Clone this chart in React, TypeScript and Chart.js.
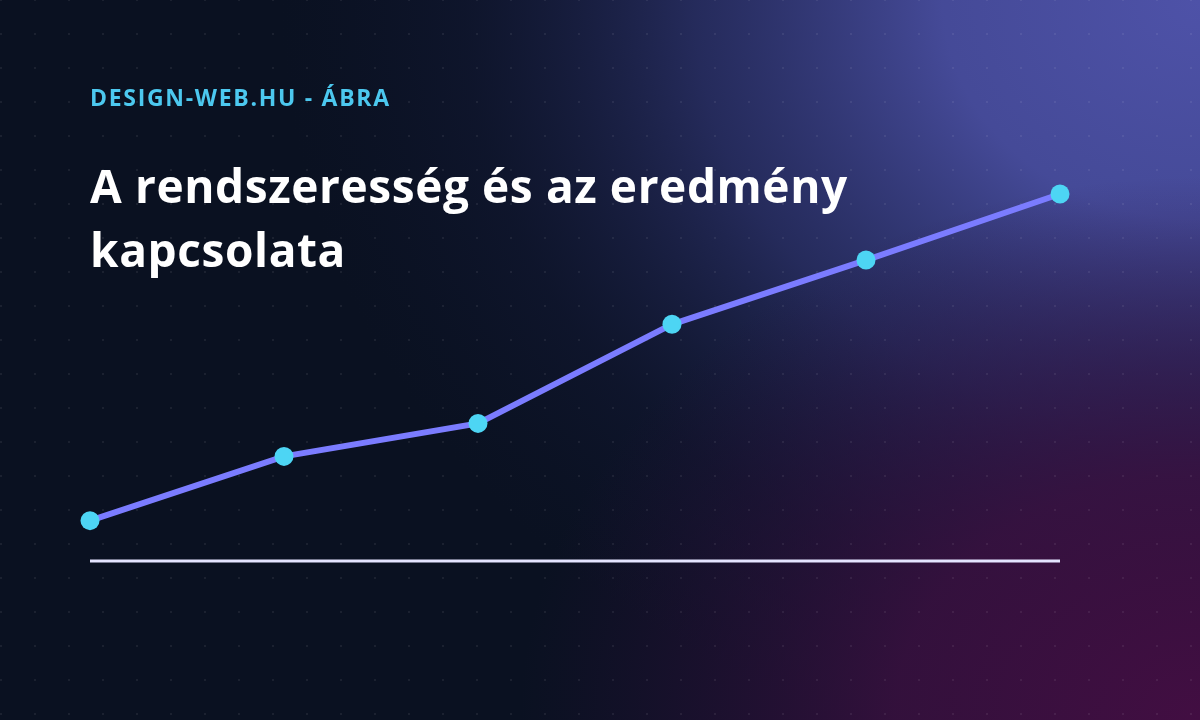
import React, { useEffect, useRef } from "react";
import { Chart, registerables } from "chart.js";

Chart.register(...registerables);

const categories = ["1", "2", "3", "4", "5", "6"];
const resultValues = [11, 28.5, 37.5, 64.5, 82, 100];
const yMin = 0;
const yMax = 100;
const kicker = "DESIGN-WEB.HU - ÁBRA";
const titleLines = ["A rendszeresség és az eredmény", "kapcsolata"];

const W = 1200;
const H = 720;

const backgroundPlugin = {
  id: "bgPlugin",
  beforeDraw(chart: any) {
    const ctx = chart.ctx as CanvasRenderingContext2D;
    ctx.save();
    ctx.fillStyle = "#0a1121";
    ctx.fillRect(0, 0, W, H);
    // top-right indigo glow (elliptical)
    ctx.save();
    ctx.translate(1200, 0);
    ctx.scale(1, 0.85);
    let g = ctx.createRadialGradient(0, 0, 0, 0, 0, 920);
    g.addColorStop(0, "rgba(78,82,168,1)");
    g.addColorStop(0.28, "rgba(72,77,158,0.95)");
    g.addColorStop(0.55, "rgba(55,60,130,0.6)");
    g.addColorStop(0.8, "rgba(30,35,80,0.22)");
    g.addColorStop(1, "rgba(20,25,60,0)");
    ctx.fillStyle = g;
    ctx.fillRect(-1200, 0, 1200, 1000);
    ctx.restore();
    // bottom-right magenta glow
    ctx.save();
    ctx.translate(1200, 720);
    ctx.scale(1, 0.8);
    g = ctx.createRadialGradient(0, 0, 0, 0, 0, 680);
    g.addColorStop(0, "rgba(66,14,66,1)");
    g.addColorStop(0.45, "rgba(58,16,64,0.85)");
    g.addColorStop(1, "rgba(40,15,60,0)");
    ctx.fillStyle = g;
    ctx.fillRect(-1200, -1000, 1200, 1000);
    ctx.restore();
    // dot grid
    ctx.fillStyle = "rgba(255,255,255,0.07)";
    for (let x = 1; x < W; x += 34) {
      for (let y = 0; y < H; y += 34) {
        ctx.fillRect(x - 1, y - 1, 2, 2);
      }
    }
    ctx.restore();
  },
  beforeDatasetsDraw(chart: any) {
    const ctx = chart.ctx as CanvasRenderingContext2D;
    const y = chart.scales.y.getPixelForValue(yMin);
    ctx.save();
    ctx.strokeStyle = "#e4e4ff";
    ctx.lineWidth = 3;
    ctx.beginPath();
    ctx.moveTo(chart.chartArea.left, y);
    ctx.lineTo(chart.chartArea.right, y);
    ctx.stroke();
    ctx.restore();
  },
};

export default function App() {
  const ref = useRef<HTMLCanvasElement | null>(null);
  useEffect(() => {
    if (!ref.current) return;
    const chart = new Chart(ref.current, {
      type: "line",
      data: {
        labels: categories,
        datasets: [
          {
            data: resultValues,
            borderColor: "#7b7cff",
            borderWidth: 6,
            pointBackgroundColor: "#4dd5f4",
            pointBorderWidth: 0,
            pointRadius: 9.5,
            pointHoverRadius: 9.5,
            tension: 0,
            clip: false as any,
            fill: false,
          },
        ],
      },
      options: {
        responsive: false,
        animation: false,
        devicePixelRatio: 1,
        layout: { padding: { left: 90, right: 140, top: 194, bottom: 159 } },
        plugins: { legend: { display: false }, tooltip: { enabled: false }, title: { display: false } },
        scales: {
          x: { display: false, offset: false },
          y: { display: false, min: yMin, max: yMax },
        },
      },
      plugins: [backgroundPlugin],
    });
    return () => chart.destroy();
  }, []);

  return (
    <div style={{ position: "fixed", left: 0, top: 0, width: W, height: H, overflow: "hidden" }}>
      <canvas ref={ref} width={W} height={H} style={{ width: W, height: H, display: "block" }} />
      <div
        style={{
          position: "absolute",
          left: 90,
          top: 86,
          fontFamily: "'Open Sans', sans-serif",
          fontWeight: 700,
          fontSize: 23,
          letterSpacing: "1.7px",
          lineHeight: 1,
          color: "#4cc8ef",
          whiteSpace: "nowrap",
        }}
      >
        {kicker}
      </div>
      <div
        style={{
          position: "absolute",
          left: 90,
          top: 153,
          fontFamily: "'Open Sans', sans-serif",
          fontWeight: 700,
          fontSize: 46,
          letterSpacing: "0.6px",
          lineHeight: "64px",
          color: "#ffffff",
          whiteSpace: "nowrap",
        }}
      >
        {titleLines.map((t, i) => (
          <div key={i}>{t}</div>
        ))}
      </div>
    </div>
  );
}
